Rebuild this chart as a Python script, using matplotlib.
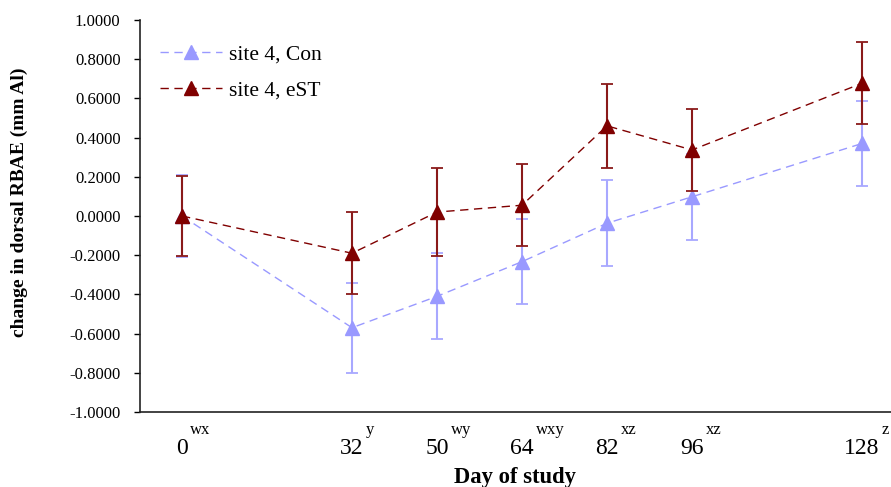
import matplotlib
matplotlib.use('Agg')
import matplotlib.pyplot as plt
from matplotlib.lines import Line2D
from matplotlib.ticker import FormatStrFormatter, MultipleLocator

# ---- data ----
days = ["0", "32", "50", "64", "82", "96", "128"]
day_slots = [0, 2, 3, 4, 5, 6, 8]          # category slot of each day on the axis
sig_letters = ["wx", "y", "wy", "wxy", "xz", "xz", "z"]

con_mean = [0.0, -0.57, -0.41, -0.233, -0.037, 0.098, 0.37]
con_err = [0.21, 0.23, 0.22, 0.217, 0.22, 0.22, 0.215]
est_mean = [0.0, -0.19, 0.02, 0.055, 0.46, 0.337, 0.677]
est_err = [0.205, 0.21, 0.225, 0.21, 0.215, 0.21, 0.21]

con_label = "site 4, Con"
est_label = "site 4, eST"

plt.rcParams['font.family'] = ['Liberation Serif', 'DejaVu Serif']
plt.rcParams['axes.unicode_minus'] = False

fig = plt.figure(figsize=(8.91, 4.87), dpi=100)
ax = fig.add_axes([140/891, 75/487, 751/891, 392/487])

con_c = '#9999ff'
est_c = '#800000'
dash = (0, (6, 4))

ax.errorbar(day_slots, con_mean, yerr=con_err, color=con_c, ecolor='#a8a8ff',
            elinewidth=1.5, capsize=4, capthick=1.3, marker='^', markersize=10,
            linestyle=dash, lw=1, zorder=2)
ax.errorbar(day_slots, est_mean, yerr=est_err, color=est_c, ecolor='#8a1a1a',
            elinewidth=1.5, capsize=4, capthick=1.3, marker='^', markersize=10,
            linestyle=dash, lw=1, zorder=3)

ax.set_xlim(-42/85, 709/85)
ax.set_ylim(-1.0, 1.0)
ax.yaxis.set_major_locator(MultipleLocator(0.2))
ax.yaxis.set_major_formatter(FormatStrFormatter('%.4f'))

ax.set_xticks(day_slots)
ax.set_xticklabels(days)

for s in ['top', 'right']:
    ax.spines[s].set_visible(False)
for s in ['left', 'bottom']:
    ax.spines[s].set_linewidth(1.2)
    ax.spines[s].set_color('#222222')

ax.tick_params(axis='y', direction='out', length=4, width=1, labelsize=12, pad=10)
ax.tick_params(axis='x', length=0, labelsize=17, pad=19)

ax.set_xlabel("Day of study", fontsize=16.3, fontweight='bold', labelpad=5.5)
ax.set_ylabel("change in dorsal RBAE (mm Al)", fontsize=14, fontweight='bold')
ax.yaxis.set_label_coords(-(140 - 28) / 751, (412 - 202) / 392)

handles = [Line2D([], [], color=con_c, marker='^', markersize=10, linestyle=dash, lw=1),
           Line2D([], [], color=est_c, marker='^', markersize=10, linestyle=dash, lw=1)]
leg = ax.legend(handles, [con_label, est_label], loc='upper left',
                bbox_to_anchor=(11.4 / 751, (412 - 36) / 392), borderaxespad=0,
                frameon=False, fontsize=15.5, handlelength=2.9, labelspacing=0.72,
                handletextpad=0.3)

fig.canvas.draw()
for lab, sup in zip(ax.get_xticklabels(), sig_letters):
    ax.annotate(sup, xy=(1, 1), xycoords=lab, xytext=(1.5, 11.5),
                textcoords='offset points', ha='left', va='top', fontsize=12)

fig.savefig('out.png', dpi=100)
